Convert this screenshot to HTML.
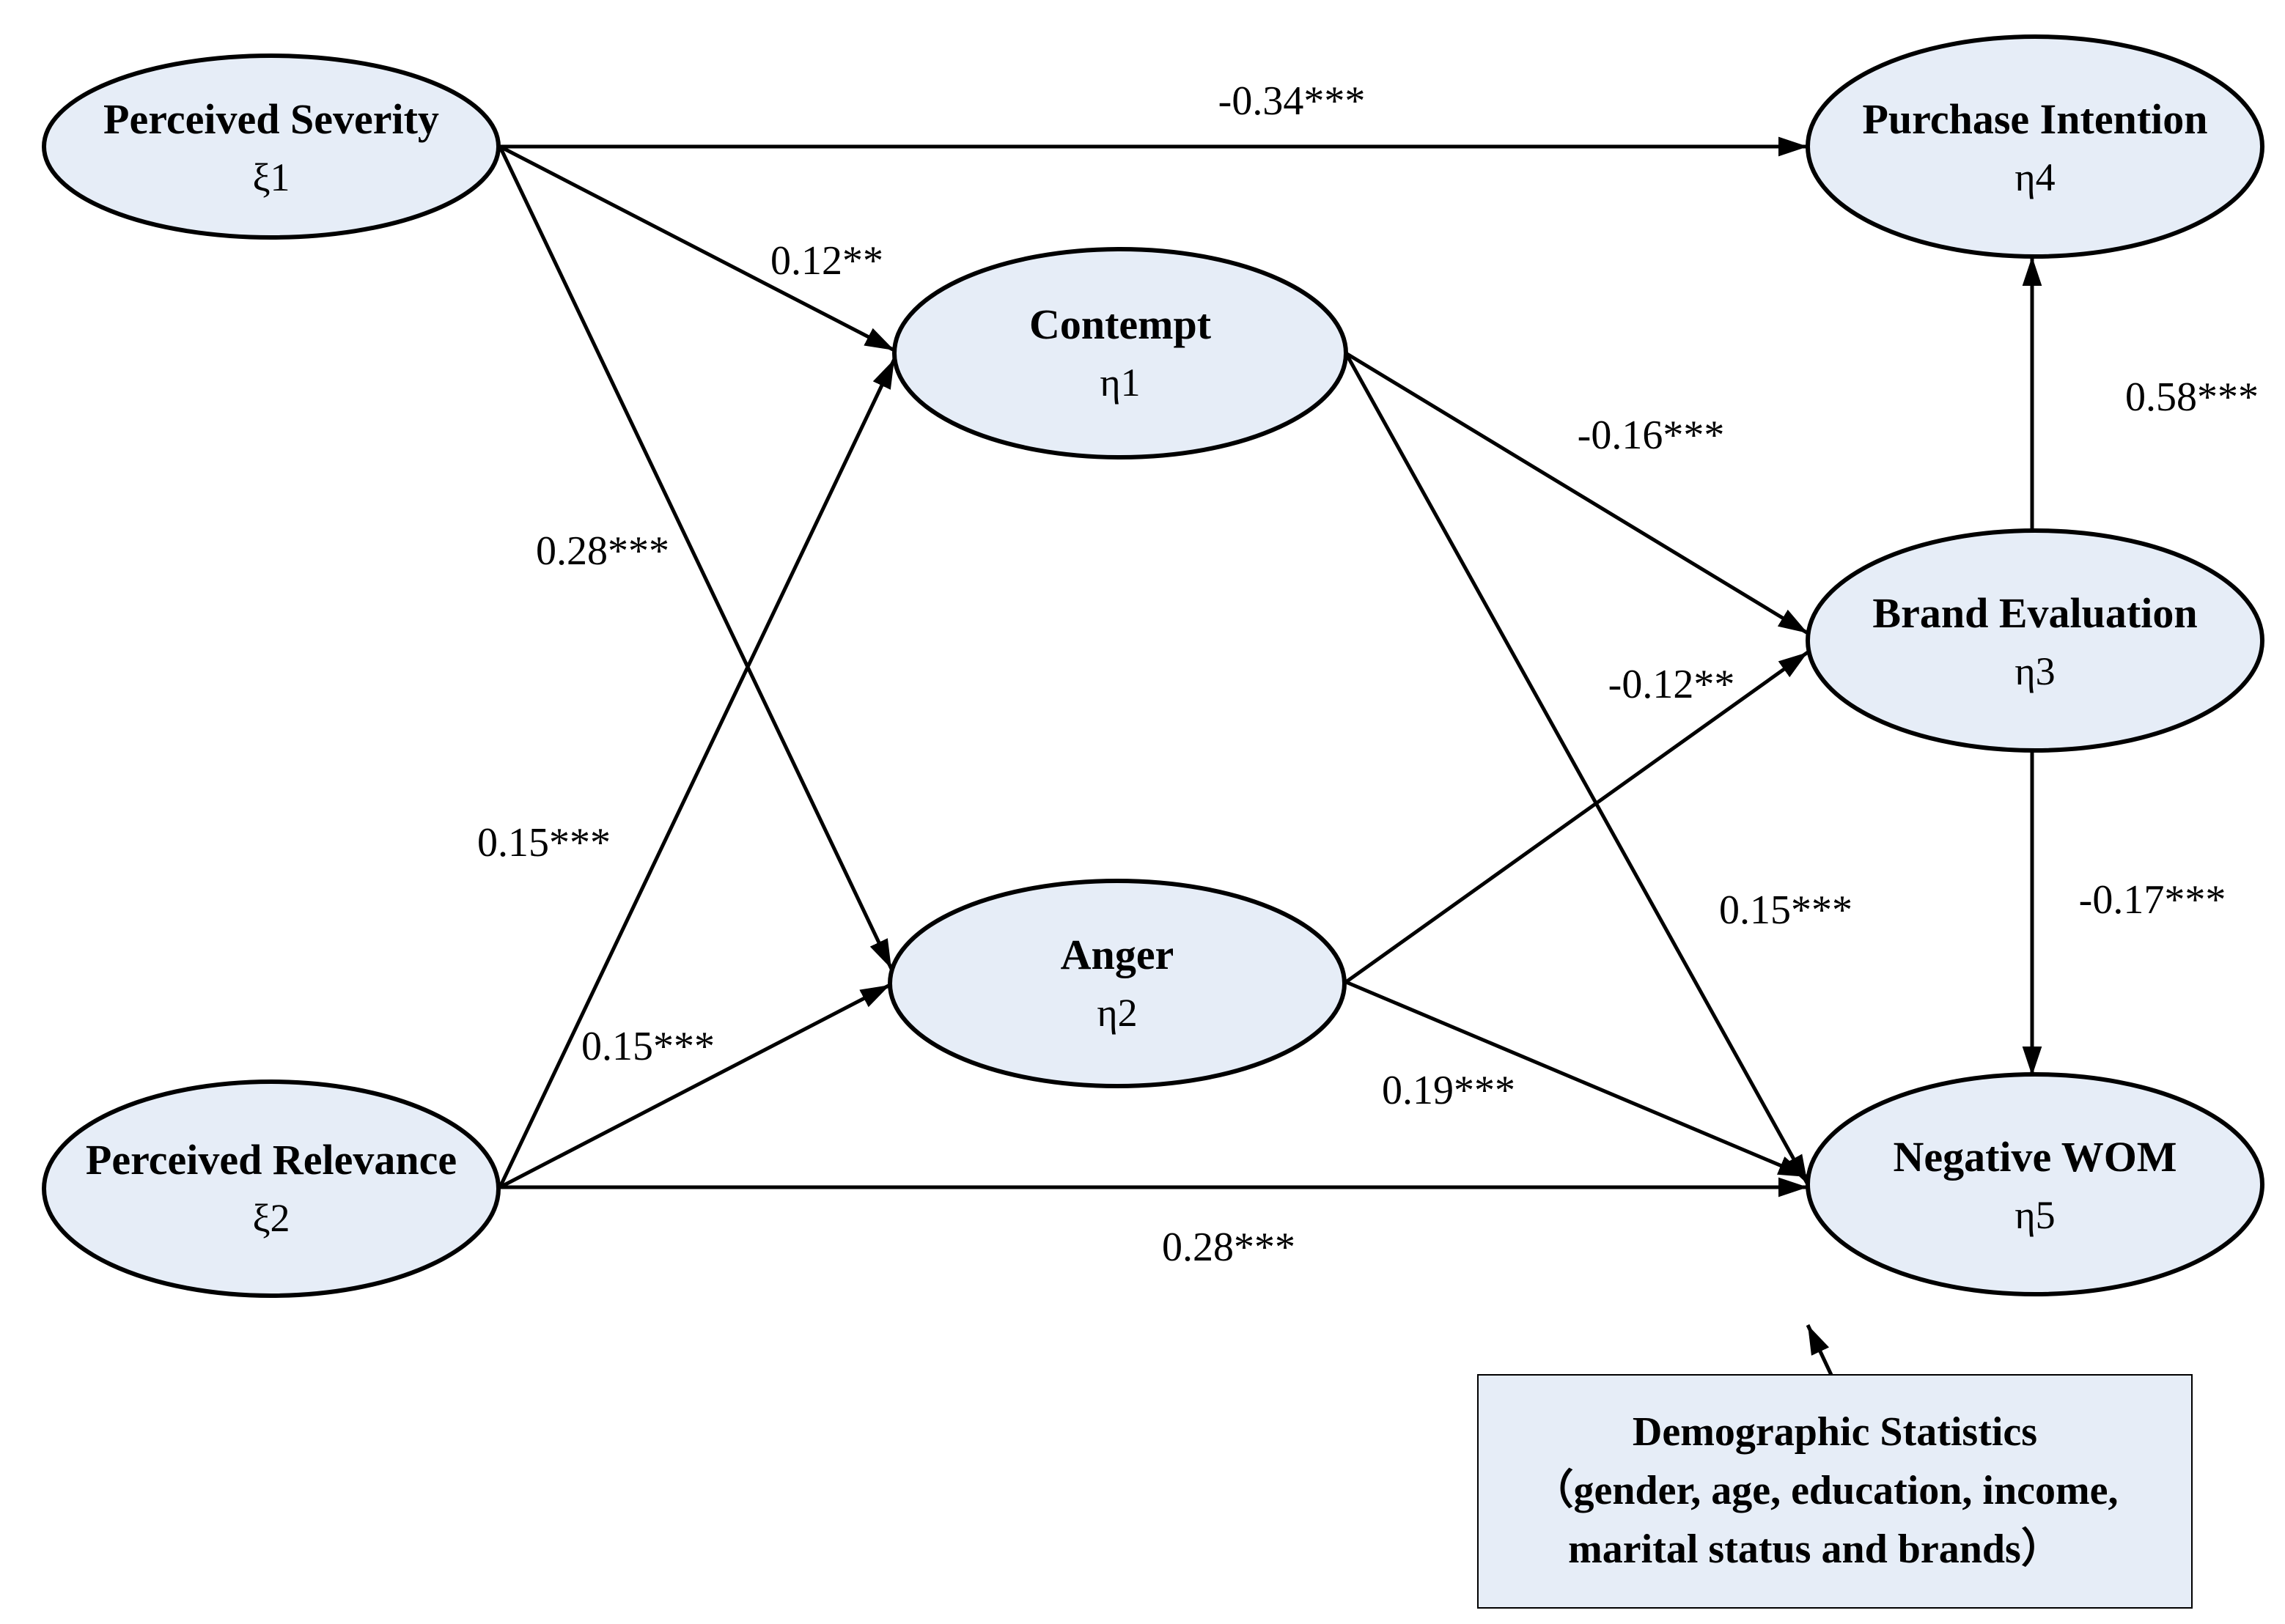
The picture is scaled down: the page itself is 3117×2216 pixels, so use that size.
<!DOCTYPE html>
<html><head><meta charset="utf-8"><style>
html,body{margin:0;padding:0;background:#fff}
svg{display:block}
text{font-family:"Liberation Serif",serif;fill:#000}
.t{font-weight:bold;font-size:58px}
.s{font-size:54px}
.l{font-size:56px}
.d{font-weight:bold;font-size:56px}
</style></head><body>
<svg width="3117" height="2216" viewBox="0 0 3117 2216" xmlns="http://www.w3.org/2000/svg">
<defs>
<marker id="ar" viewBox="0 0 12 8" refX="12" refY="4" markerWidth="40" markerHeight="28" markerUnits="userSpaceOnUse" orient="auto"><path d="M0,0 L12,4 L0,8 z" fill="#000"/></marker>
</defs>
<g stroke="#000" stroke-width="5" fill="none" marker-end="url(#ar)">
<line x1="682" y1="200" x2="2466" y2="200"/>
<line x1="682" y1="200" x2="1220" y2="478"/>
<line x1="682" y1="200" x2="1216" y2="1322"/>
<line x1="682" y1="1620" x2="1220" y2="490"/>
<line x1="682" y1="1620" x2="1214" y2="1344"/>
<line x1="682" y1="1620" x2="2466" y2="1620"/>
<line x1="1836" y1="482" x2="2466" y2="864"/>
<line x1="1836" y1="482" x2="2466" y2="1616"/>
<line x1="1836" y1="1340" x2="2466" y2="890"/>
<line x1="1836" y1="1340" x2="2466" y2="1606"/>
<line x1="2772" y1="722" x2="2772" y2="350"/>
<line x1="2772" y1="1024" x2="2772" y2="1468"/>
<line x1="2498" y1="1876" x2="2466" y2="1808"/>
</g>
<g stroke="#000" stroke-width="6" fill="#e6edf7">
<ellipse cx="370" cy="200" rx="310" ry="124"/>
<ellipse cx="370" cy="1622" rx="310" ry="146"/>
<ellipse cx="1528" cy="482" rx="308" ry="142"/>
<ellipse cx="1524" cy="1342" rx="310" ry="140"/>
<ellipse cx="2776" cy="200" rx="310" ry="150"/>
<ellipse cx="2776" cy="874" rx="310" ry="150"/>
<ellipse cx="2776" cy="1616" rx="310" ry="150"/>
</g>
<rect x="2016" y="1876" width="974" height="318" fill="#e6edf7" stroke="#000" stroke-width="2"/>
<g text-anchor="middle">
<text class="t" x="370" y="182">Perceived Severity</text><text class="s" x="370" y="260">ξ1</text>
<text class="t" x="370" y="1602">Perceived Relevance</text><text class="s" x="370" y="1680">ξ2</text>
<text class="t" x="1528" y="462">Contempt</text><text class="s" x="1528" y="540">η1</text>
<text class="t" x="1524" y="1322">Anger</text><text class="s" x="1524" y="1400">η2</text>
<text class="t" x="2776" y="182">Purchase Intention</text><text class="s" x="2776" y="260">η4</text>
<text class="t" x="2776" y="856">Brand Evaluation</text><text class="s" x="2776" y="934">η3</text>
<text class="t" x="2776" y="1598">Negative WOM</text><text class="s" x="2776" y="1676">η5</text>
<text class="d" x="2503" y="1972">Demographic Statistics</text>
<text class="d" x="2490" y="2052">（gender, age, education, income,</text>
<text class="d" x="2476" y="2132">marital status and brands）</text>
<text class="l" x="1762" y="156">-0.34***</text>
<text class="l" x="1128" y="374">0.12**</text>
<text class="l" x="822" y="770">0.28***</text>
<text class="l" x="742" y="1168">0.15***</text>
<text class="l" x="884" y="1446">0.15***</text>
<text class="l" x="1676" y="1720">0.28***</text>
<text class="l" x="2252" y="612">-0.16***</text>
<text class="l" x="2436" y="1260">0.15***</text>
<text class="l" x="2280" y="952">-0.12**</text>
<text class="l" x="1976" y="1506">0.19***</text>
<text class="l" x="2990" y="560">0.58***</text>
<text class="l" x="2936" y="1246">-0.17***</text>
</g>
</svg>
</body></html>
